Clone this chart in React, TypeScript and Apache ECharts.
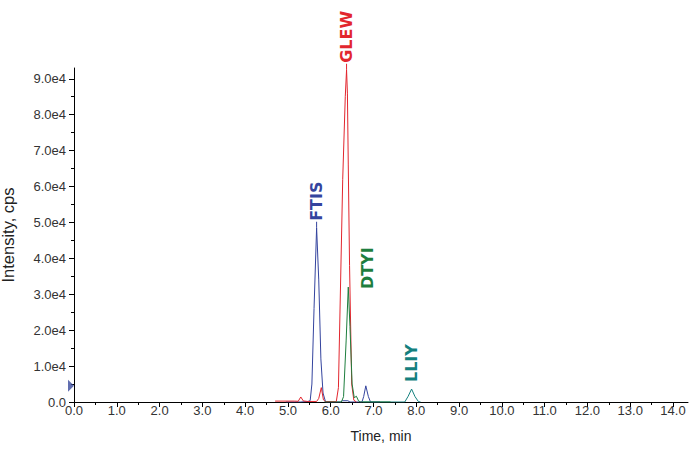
import React, { useEffect, useRef } from "react";
import * as echarts from "echarts";

// ---- data (time in min, intensity in cps) ----
const ftisTrace: [number, number][] = [
  [4.95, 0], [5.3, 0], [5.47, 150], [5.52, 400], [5.56, 5000], [5.61, 26000],
  [5.67, 48500], [5.72, 34000], [5.77, 12000], [5.82, 2500], [5.88, 0],
  [6.23, 0], [6.27, 350], [6.4, 350], [6.45, 0], [6.73, 0], [6.77, 1500],
  [6.82, 4500], [6.88, 1500], [6.93, 0], [7.15, 0],
];
const glewTrace: [number, number][] = [
  [4.7, 250], [5.15, 250], [5.24, 200], [5.3, 1400], [5.36, 300], [5.46, 150],
  [5.67, 150], [5.72, 1000], [5.78, 4000], [5.83, 600], [5.88, 100],
  [6.13, 100], [6.18, 4000], [6.28, 62000], [6.34, 85000], [6.37, 92500],
  [6.39, 86000], [6.41, 66000], [6.44, 38000], [6.49, 5000], [6.54, 500], [6.6, 0],
];
const dtyiTrace: [number, number][] = [
  [5.85, 0], [6.25, 0], [6.3, 1500], [6.36, 17000], [6.41, 32000], [6.45, 21000],
  [6.5, 5000], [6.55, 1200], [6.6, 1600], [6.65, 300], [6.7, 0], [7.4, 0],
];
const lliyTrace: [number, number][] = [
  [6.75, 0], [7.4, 0], [7.73, 0], [7.81, 1600], [7.89, 3600], [7.97, 1500],
  [8.05, 100], [8.1, 0],
];

const peakNames = ["FTIS", "GLEW", "DTYI", "LLIY"];
const peakApex: [number, number][] = [
  [5.67, 48500], [6.37, 92500], [6.41, 32000], [7.89, 3600],
];
const thresholdMarker: [number, number][] = [[0, 4500]];

const xMajorTicks = [0, 1, 2, 3, 4, 5, 6, 7, 8, 9, 10, 11, 12, 13, 14];
const xMinorTicks = [0.5, 1.5, 2.5, 3.5, 4.5, 5.5, 6.5, 7.5, 8.5, 9.5, 10.5, 11.5, 12.5, 13.5];
const xTickLabels = ["0.0", "1.0", "2.0", "3.0", "4.0", "5.0", "6.0", "7.0", "8.0", "9.0", "10.0", "11.0", "12.0", "13.0", "14.0"];
const yMajorTicks = [0, 10000, 20000, 30000, 40000, 50000, 60000, 70000, 80000, 90000];
const yMinorTicks = [5000, 15000, 25000, 35000, 45000, 55000, 65000, 75000, 85000];
const yTickLabels = ["0.0", "1.0e4", "2.0e4", "3.0e4", "4.0e4", "5.0e4", "6.0e4", "7.0e4", "8.0e4", "9.0e4"];

const BLUE = "#34449e";
const RED = "#e2262e";
const GREEN = "#1e7e3e";
const TEAL = "#14807e";

const AXIS_FONT = "'Liberation Sans', Arial, sans-serif";
const PEAK_FONT = "'DejaVu Sans', Verdana, sans-serif";

function peakMark(idx: number, color: string, leader: number, distance: number, shiftRight: number) {
  return {
    silent: true,
    data: [
      {
        coord: peakApex[idx],
        symbol: "rect",
        symbolSize: [leader > 0 ? 1 : 0.01, leader > 0 ? leader : 0.01],
        symbolOffset: [0, -leader / 2],
        itemStyle: { color },
        label: {
          show: true,
          formatter: peakNames[idx],
          position: "top",
          distance,
          rotate: 90,
          align: "left",
          verticalAlign: "middle",
          // offset is in the rotated text frame: [along text, across text]
          offset: [0, shiftRight],
          color,
          fontSize: 16,
          fontWeight: "bold",
          fontFamily: PEAK_FONT,
        },
      },
    ],
  };
}

export default function App() {
  const ref = useRef<HTMLDivElement>(null);
  useEffect(() => {
    if (!ref.current) return;
    const chart = echarts.init(ref.current, undefined, { renderer: "svg" });
    const gridLayout = {
      left: 74, right: 3, top: 68, bottom: 48,
      containLabel: false, outerBoundsMode: "none",
    };
    const tickLabelStyle = { fontSize: 13, fontFamily: AXIS_FONT, color: "#333" };
    const X_MAX = 14.35;
    const Y_MAX = 93000;
    chart.setOption({
      animation: false,
      backgroundColor: "#fff",
      grid: [gridLayout, { ...gridLayout }],
      xAxis: [
        {
          gridIndex: 0,
          type: "value",
          min: 0,
          max: X_MAX,
          axisLine: { lineStyle: { color: "#000", width: 1 } },
          axisTick: { customValues: xMajorTicks, length: 5, lineStyle: { color: "#000" } },
          axisLabel: {
            customValues: xMajorTicks,
            formatter: (v: number) => xTickLabels[xMajorTicks.indexOf(v)] ?? "",
            margin: 2,
            ...tickLabelStyle,
          },
          splitLine: { show: false },
          name: "Time, min",
          nameLocation: "middle",
          nameGap: 27,
          nameTextStyle: { fontSize: 14, fontFamily: AXIS_FONT, color: "#222" },
        },
        {
          gridIndex: 1,
          type: "value",
          min: 0,
          max: X_MAX,
          axisLine: { show: false },
          axisTick: { customValues: xMinorTicks, length: 3, lineStyle: { color: "#000" } },
          axisLabel: { show: false },
          splitLine: { show: false },
        },
      ],
      yAxis: [
        {
          gridIndex: 0,
          type: "value",
          min: 0,
          max: Y_MAX,
          axisLine: { show: true, lineStyle: { color: "#000", width: 1 } },
          axisTick: { show: true, customValues: yMajorTicks, length: 5, lineStyle: { color: "#000" } },
          axisLabel: {
            customValues: yMajorTicks,
            formatter: (v: number) => yTickLabels[yMajorTicks.indexOf(v)] ?? "",
            margin: 8,
            ...tickLabelStyle,
          },
          splitLine: { show: false },
          name: "Intensity, cps",
          nameLocation: "middle",
          nameGap: 58,
          nameTextStyle: { fontSize: 16.5, fontFamily: AXIS_FONT, color: "#222" },
        },
        {
          gridIndex: 1,
          type: "value",
          min: 0,
          max: Y_MAX,
          axisLine: { show: false },
          axisTick: { show: true, customValues: yMinorTicks, length: 3, lineStyle: { color: "#000" } },
          axisLabel: { show: false },
          splitLine: { show: false },
        },
      ],
      series: [
        {
          name: "FTIS",
          type: "line",
          data: ftisTrace,
          showSymbol: false,
          lineStyle: { color: BLUE, width: 1 },
          itemStyle: { color: BLUE },
          z: 3,
          markPoint: peakMark(0, BLUE, 6, 1, 0),
        },
        {
          name: "DTYI",
          type: "line",
          data: dtyiTrace,
          showSymbol: false,
          lineStyle: { color: GREEN, width: 1 },
          itemStyle: { color: GREEN },
          z: 4,
          markPoint: peakMark(2, GREEN, 0, -2, 19),
        },
        {
          name: "GLEW",
          type: "line",
          data: glewTrace,
          showSymbol: false,
          lineStyle: { color: RED, width: 1 },
          itemStyle: { color: RED },
          z: 3,
          markPoint: peakMark(1, RED, 6, 1, 0),
        },
        {
          name: "LLIY",
          type: "line",
          data: lliyTrace,
          showSymbol: false,
          lineStyle: { color: TEAL, width: 1 },
          itemStyle: { color: TEAL },
          z: 3,
          markPoint: peakMark(3, TEAL, 0, 7, 0),
        },
        {
          name: "threshold",
          type: "scatter",
          data: thresholdMarker,
          symbol: "path://M0,0 L6,6 L0,12 Z",
          symbolSize: [6, 12],
          symbolOffset: [-3, 0],
          itemStyle: { color: "#3a4a9c" },
          clip: false,
          silent: true,
          z: 5,
        },
      ],
    });
    return () => chart.dispose();
  }, []);
  return (
    <div
      ref={ref}
      style={{ position: "absolute", left: 0, top: 0, width: 691, height: 450 }}
    />
  );
}
